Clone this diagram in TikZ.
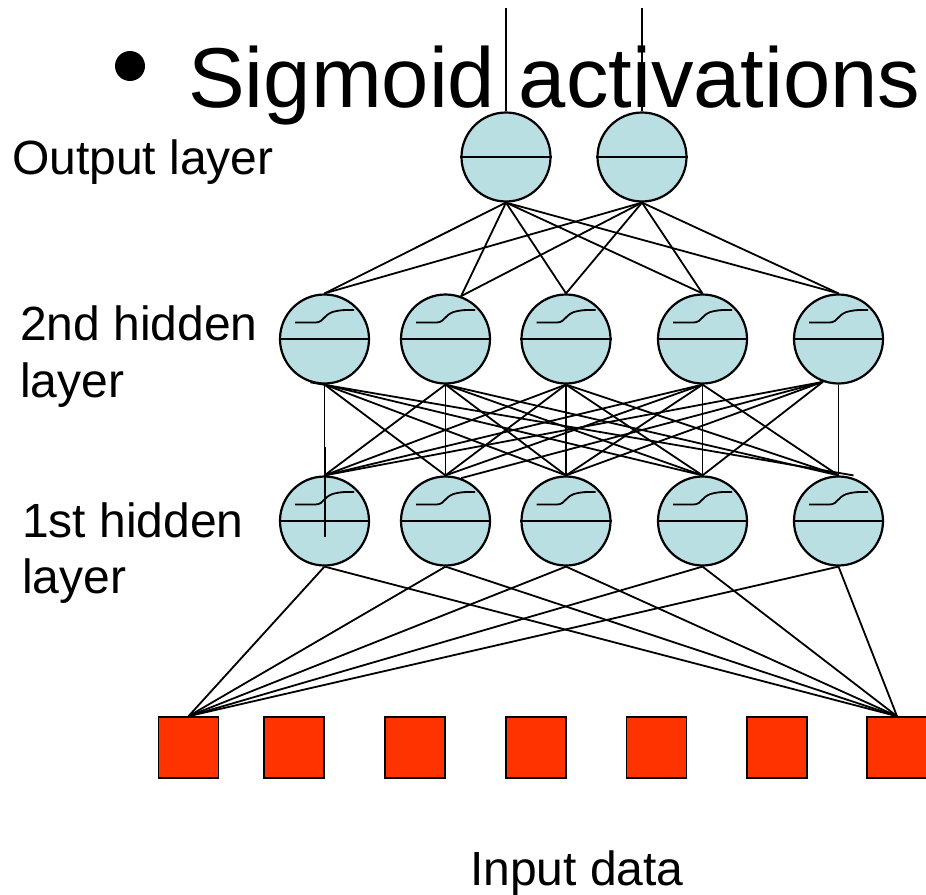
\documentclass[tikz,border=0pt]{standalone}
\usepackage{fontspec}
\setmainfont{Liberation Sans}
\usetikzlibrary{calc}
\definecolor{neuronfill}{RGB}{185,223,227}
\definecolor{inputfill}{RGB}{255,51,0}
\begin{document}
\begin{tikzpicture}[x=1pt,y=-1pt,
  neuron/.style={circle,draw=black,line width=2.2pt,fill=neuronfill,minimum size=89pt,inner sep=0pt},
  inbox/.style={rectangle,draw=black,line width=1.6pt,fill=inputfill,minimum width=60pt,minimum height=61pt,inner sep=0pt},
  conn/.style={line width=1.8pt,black},
  thinline/.style={line width=1.2pt,black},
  sigcurve/.style={line width=1.8pt,black},
  lbl/.style={anchor=base west,inner sep=0pt,font=\fontsize{48}{58}\selectfont},
]
\useasboundingbox (0,0) rectangle (926,894);

% title
\node[circle,fill=black,minimum size=30pt,inner sep=0pt] (bullet) at (130,66) {};
\node[anchor=base west,inner sep=0pt,font=\fontsize{85}{100}\selectfont] (title) at (188,107) {Sigmoid activations};

% labels
\node[lbl] (lout) at (12,174) {Output layer};
\node[lbl] (l2a) at (20,340) {2nd hidden};
\node[lbl] (l2b) at (20,397) {layer};
\node[lbl] (l1a) at (22,537) {1st hidden};
\node[lbl] (l1b) at (22,593) {layer};
\node[lbl] (lin) at (470,885) {Input data};

% output neurons
\node[neuron] (o1) at (506,157) {};
\node[neuron] (o2) at (642,157) {};
\foreach \o in {1,2}{\draw[line width=2pt] (o\o.west) -- (o\o.east);}

% hidden neurons
\foreach \x [count=\i] in {324.5,445.5,566,702.5,838.5}{
  \node[neuron] (h2\i) at (\x,339) {};
  \node[neuron] (h1\i) at (\x,521) {};
}
\foreach \i in {1,...,5}{
  \foreach \L in {h1,h2}{
    \draw[line width=2pt] (\L\i.west) -- (\L\i.east);
    \begin{scope}[shift={(\L\i.center)}]
      \draw[sigcurve] (-29.5,-16.5) -- (-9,-16.5) .. controls (0,-16.5) and (-1,-26) .. (12,-28) .. controls (18,-29) .. (29.5,-29);
    \end{scope}
  }
}

% input squares
\foreach \x [count=\i] in {188.5,294,415,536,656.5,777,897}{
  \node[inbox] (in\i) at (\x,747.5) {};
}

% vertical lines above outputs
\coordinate (t1) at (506,8);
\coordinate (t2) at (642,8);
\draw[thinline] (t1) -- (o1.north);
\draw[thinline] (t2) -- (o2.north);

% output -> 2nd hidden
\foreach \o in {1,2}{
  \foreach \j in {1,3,4,5}{\draw[conn] (o\o.south) -- (h2\j.north);}
  \draw[conn] (o\o.south) -- (h22.70);
}

% 2nd hidden -> 1st hidden
\foreach \i in {2,3,4}{\foreach \j in {1,...,5}{\draw[conn] (h2\i.south) -- (h1\j.north);}}
\foreach \j in {1,...,4}{\draw[conn] (h21.south) -- (h1\j.north);}
\draw[conn] (h21.252) -- ([xshift=15pt]h15.north);
\foreach \j in {1,3,4}{\draw[conn] (h25.250) -- (h1\j.north);}
\draw[conn] (h25.250) -- (h12.70);
\draw[conn] (h25.south) -- (h15.north);

% vertical mark in first neuron of 1st hidden layer
\coordinate (v1) at (325,447);
\coordinate (v2) at (325,537);
\draw[line width=2pt] (v1) -- (v2);

% 1st hidden -> inputs
\foreach \j in {1,...,5}{
  \draw[conn] (h1\j.south) -- (in1.north);
  \draw[conn] (h1\j.south) -- (in7.north);
}
\end{tikzpicture}
\end{document}
